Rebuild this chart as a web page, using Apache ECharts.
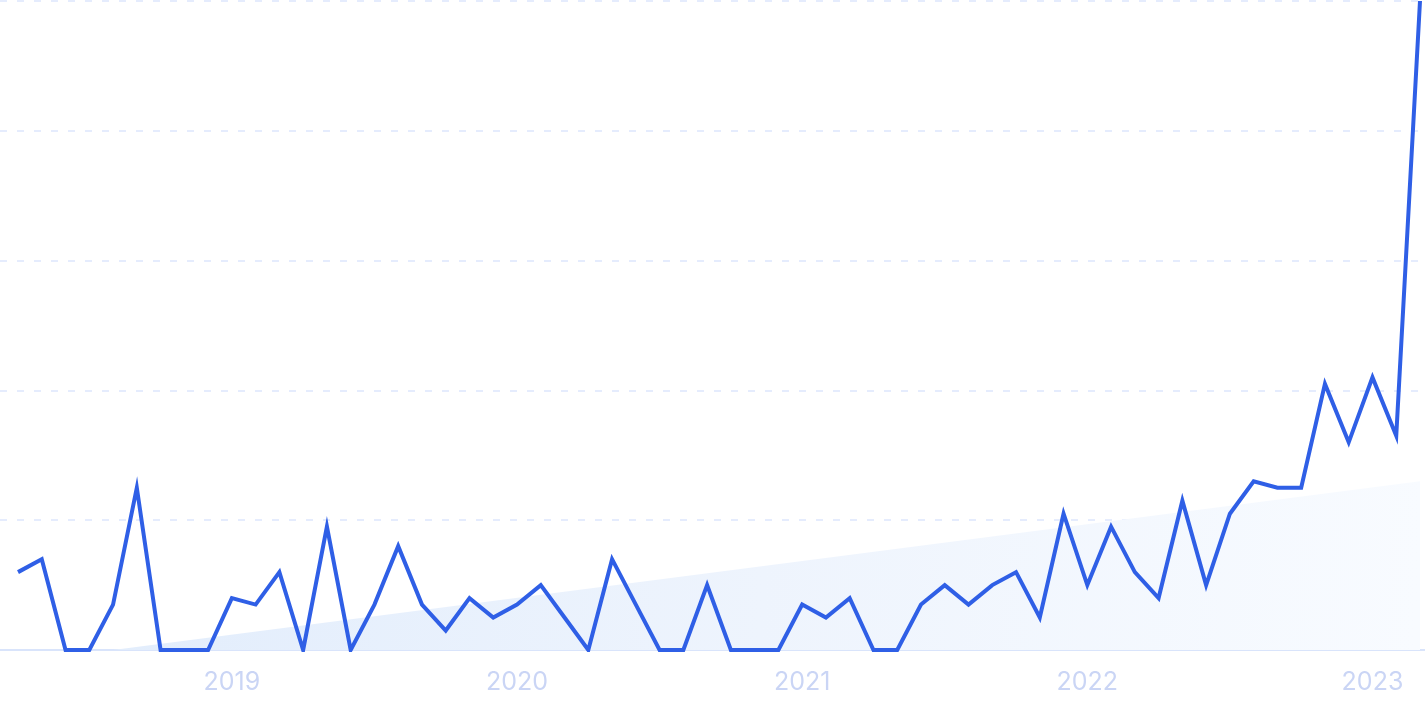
<!DOCTYPE html>
<html>
<head>
<meta charset="utf-8">
<script src="https://cdn.jsdelivr.net/npm/echarts@6/dist/echarts.min.js"></script>
<style>
html,body{margin:0;padding:0;background:#fff;}
#chart{width:1425px;height:712px;}
</style>
</head>
<body>
<div id="chart"></div>
<script>
// Monthly categories, Apr 2018 – Mar 2023
const months = [
  '2018-04','2018-05','2018-06','2018-07','2018-08','2018-09','2018-10','2018-11','2018-12',
  '2019-01','2019-02','2019-03','2019-04','2019-05','2019-06','2019-07','2019-08','2019-09','2019-10','2019-11','2019-12',
  '2020-01','2020-02','2020-03','2020-04','2020-05','2020-06','2020-07','2020-08','2020-09','2020-10','2020-11','2020-12',
  '2021-01','2021-02','2021-03','2021-04','2021-05','2021-06','2021-07','2021-08','2021-09','2021-10','2021-11','2021-12',
  '2022-01','2022-02','2022-03','2022-04','2022-05','2022-06','2022-07','2022-08','2022-09','2022-10','2022-11','2022-12',
  '2023-01','2023-02','2023-03'
];
const interest = [
  12,14,0,0,7,25,0,0,0,
  8,7,12,0,19,0,7,16,7,3,8,5,
  7,10,5,0,14,7,0,0,10,0,0,0,
  7,5,8,0,0,7,10,7,10,12,5,21,
  10,19,12,8,23,10,21,26,25,25,41,32,
  42,33,100
];
// Trend line endpoints (only start and end are known; drawn as a straight line)
const trend = months.map(() => null);
trend[4] = 0;
trend[59] = 26;

const chart = echarts.init(document.getElementById('chart'));
chart.setOption({
  animation: false,
  grid: [
    { left: 18, right: 5, top: 1, bottom: 62 },
    { left: 0, right: 0, top: 1, bottom: 62 }
  ],
  xAxis: [
    {
      type: 'category',
      gridIndex: 0,
      data: months,
      boundaryGap: false,
      axisLine: { show: false },
      axisTick: { show: false },
      axisLabel: {
        interval: 0,
        margin: 20,
        color: '#cad5f5',
        fontSize: 25,
        fontFamily: 'Inter, "Noto Sans", sans-serif',
        formatter: function (v) { return v.endsWith('-01') ? v.slice(0, 4) : ''; }
      },
      splitLine: { show: false }
    },
    {
      type: 'value',
      gridIndex: 1,
      min: 0,
      max: 1,
      axisLine: { show: true, lineStyle: { color: '#d9e4fb', width: 2 } },
      axisTick: { show: false },
      axisLabel: { show: false },
      splitLine: { show: false }
    }
  ],
  yAxis: [
    {
      type: 'value',
      gridIndex: 0,
      min: 0,
      max: 100,
      interval: 20,
      axisLine: { show: false },
      axisTick: { show: false },
      axisLabel: { show: false },
      splitLine: { show: false }
    },
    {
      type: 'value',
      gridIndex: 1,
      min: 0,
      max: 100,
      interval: 20,
      axisLine: { show: false },
      axisTick: { show: false },
      axisLabel: { show: false },
      splitLine: { show: true, lineStyle: { color: '#dde6fd', width: 1.5, type: [7, 10] } }
    }
  ],
  series: [
    {
      type: 'line',
      xAxisIndex: 0,
      yAxisIndex: 0,
      data: trend,
      connectNulls: true,
      symbol: 'none',
      lineStyle: { width: 0, opacity: 0 },
      areaStyle: {
        opacity: 1,
        color: new echarts.graphic.LinearGradient(0, 0, 1, 0.4, [
          { offset: 0, color: '#e2edfc' },
          { offset: 0.5, color: '#eef4fd' },
          { offset: 1, color: '#f8fbff' }
        ])
      },
      silent: true,
      z: 1
    },
    {
      type: 'line',
      xAxisIndex: 0,
      yAxisIndex: 0,
      data: interest,
      symbol: 'none',
      lineStyle: { color: '#2f5fe6', width: 4, join: 'miter' },
      z: 3
    }
  ]
});
</script>
</body>
</html>
